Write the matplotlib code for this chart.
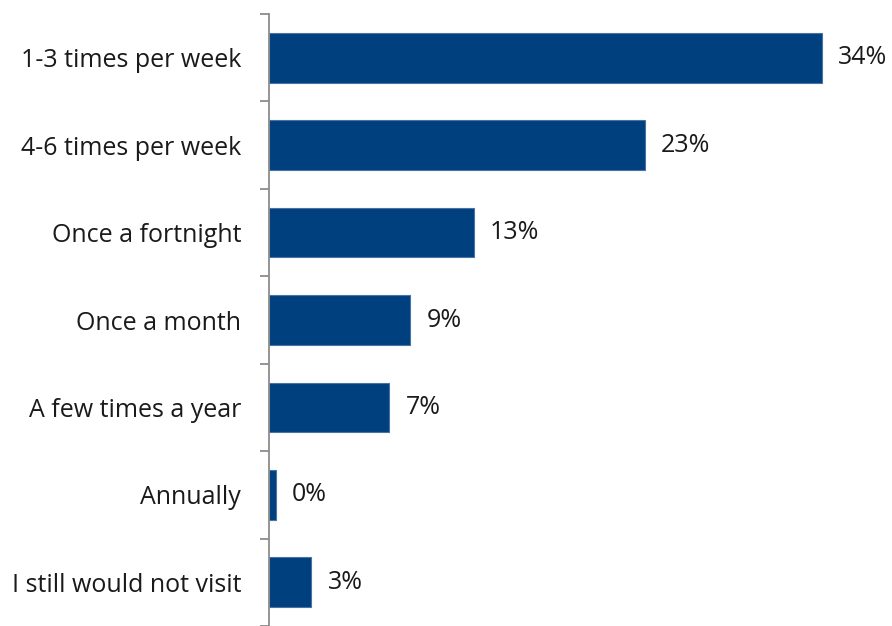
import matplotlib.pyplot as plt
import numpy as np

categories = ["1-3 times per week", "4-6 times per week", "Once a fortnight",
              "Once a month", "A few times a year", "Annually",
              "I still would not visit"]
values = [34.0, 23.1, 12.6, 8.7, 7.4, 0.4, 2.6]
value_labels = ["34%", "23%", "13%", "9%", "7%", "0%", "3%"]

plt.rcParams['font.family'] = ['Open Sans', 'DejaVu Sans']

fig = plt.figure(figsize=(8.92, 6.26), dpi=100)
ax = fig.add_axes([269 / 892, 0, 1 - 269 / 892, 612 / 626])

y = np.arange(len(categories))
ax.barh(y, values, height=0.57, color='#00407F', edgecolor='#4A73A5', linewidth=0.8)

for yi, v, lab in zip(y, values, value_labels):
    ax.text(v + 1.0, yi, lab, va='center', ha='left', fontsize=18, color='#1a1a1a')

ax.set_xlim(0, 623 / 16.26)
ax.set_ylim(len(categories) - 0.5, -0.5)

ax.set_yticks(y)
ax.set_yticklabels(categories, fontsize=18, color='#1a1a1a')
ax.tick_params(axis='y', which='major', length=0, pad=20)
ax.set_yticks(np.arange(len(categories) + 1) - 0.5, minor=True)
ax.tick_params(axis='y', which='minor', length=6.5, width=1.3, color='#8c8c8c')
ax.set_xticks([])

for side in ['top', 'right', 'bottom']:
    ax.spines[side].set_visible(False)
ax.spines['left'].set_color('#8c8c8c')
ax.spines['left'].set_linewidth(1.3)

fig.savefig('out.png', dpi=100)
